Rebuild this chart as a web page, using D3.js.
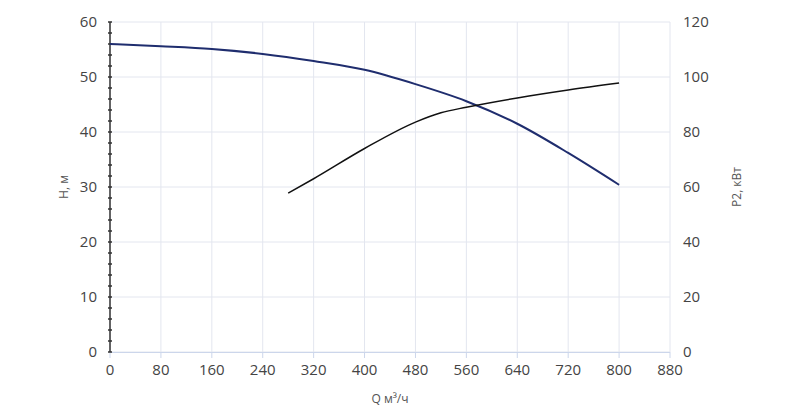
<!DOCTYPE html><html><head><meta charset="utf-8"><script src="https://cdn.jsdelivr.net/npm/d3@7"></script>
<style>body{margin:0;background:#fff}text{font-family:"Open Sans",sans-serif}</style></head><body><svg id="c" width="800" height="408"></svg><script>
const hQ=[0,80,160,240,320,400,480,560,640,720,800];
const hV=[56,55.6,55.1,54.2,52.9,51.3,48.7,45.6,41.5,36.2,30.4];
const pQ=[280,320,400,480,520,560,640,720,800];
const pV=[57.8,63,74,83.6,87,89,92.4,95.3,97.8];
const xTicks=[0,80,160,240,320,400,480,560,640,720,800,880];
const yTicks=[0,10,20,30,40,50,60];
const y2Ticks=[0,20,40,60,80,100,120];
const svg=d3.select("#c");
const x=d3.scaleLinear().domain([0,880]).range([110,670]);
const y=d3.scaleLinear().domain([0,60]).range([352,22]);
const y2=d3.scaleLinear().domain([0,120]).range([352,22]);
const g=svg.append("g");
xTicks.forEach(t=>g.append("line").attr("x1",x(t)).attr("x2",x(t)).attr("y1",22).attr("y2",352).attr("stroke","#e3e6ef"));
yTicks.forEach(t=>g.append("line").attr("x1",110).attr("x2",670).attr("y1",y(t)).attr("y2",y(t)).attr("stroke","#e3e6ef"));
g.append("line").attr("x1",110).attr("x2",670).attr("y1",352.5).attr("y2",352.5).attr("stroke","#ccd6eb");
xTicks.forEach(t=>g.append("line").attr("x1",x(t)).attr("x2",x(t)).attr("y1",352).attr("y2",358).attr("stroke","#ccd6eb"));
g.append("line").attr("x1",110).attr("x2",110).attr("y1",22).attr("y2",352).attr("stroke","#333").attr("stroke-width",1.5);
d3.range(0,61,2).forEach(t=>g.append("line").attr("x1",108).attr("x2",112).attr("y1",y(t)).attr("y2",y(t)).attr("stroke","#333").attr("stroke-width",1.5));
const ts={fill:"#444","font-size":15};
xTicks.forEach(t=>g.append("text").attr("x",x(t)).attr("y",375).attr("text-anchor","middle").attr("fill","#444").attr("font-size",15).text(t));
yTicks.forEach(t=>g.append("text").attr("x",97).attr("y",y(t)+5).attr("text-anchor","end").attr("fill","#444").attr("font-size",15).text(t));
y2Ticks.forEach(t=>g.append("text").attr("x",683).attr("y",y2(t)+5).attr("fill","#444").attr("font-size",15).text(t));
g.append("text").attr("x",390).attr("y",403).attr("text-anchor","middle").attr("fill","#555").attr("font-size",12).text("Q м³/ч");
g.append("text").attr("transform","translate(68,187) rotate(-90)").attr("text-anchor","middle").attr("fill","#555").attr("font-size",12).text("H, м");
g.append("text").attr("transform","translate(741,187) rotate(-90)").attr("text-anchor","middle").attr("fill","#555").attr("font-size",12).text("P2, кВт");
const lh=d3.line().x(d=>x(d[0])).y(d=>y(d[1])).curve(d3.curveMonotoneX);
const lp=d3.line().x(d=>x(d[0])).y(d=>y2(d[1])).curve(d3.curveMonotoneX);
g.append("path").attr("d",lh(hQ.map((q,i)=>[q,hV[i]]))).attr("fill","none").attr("stroke","#1f2d6e").attr("stroke-width",2);
g.append("path").attr("d",lp(pQ.map((q,i)=>[q,pV[i]]))).attr("fill","none").attr("stroke","#111").attr("stroke-width",1.5);
</script></body></html>
